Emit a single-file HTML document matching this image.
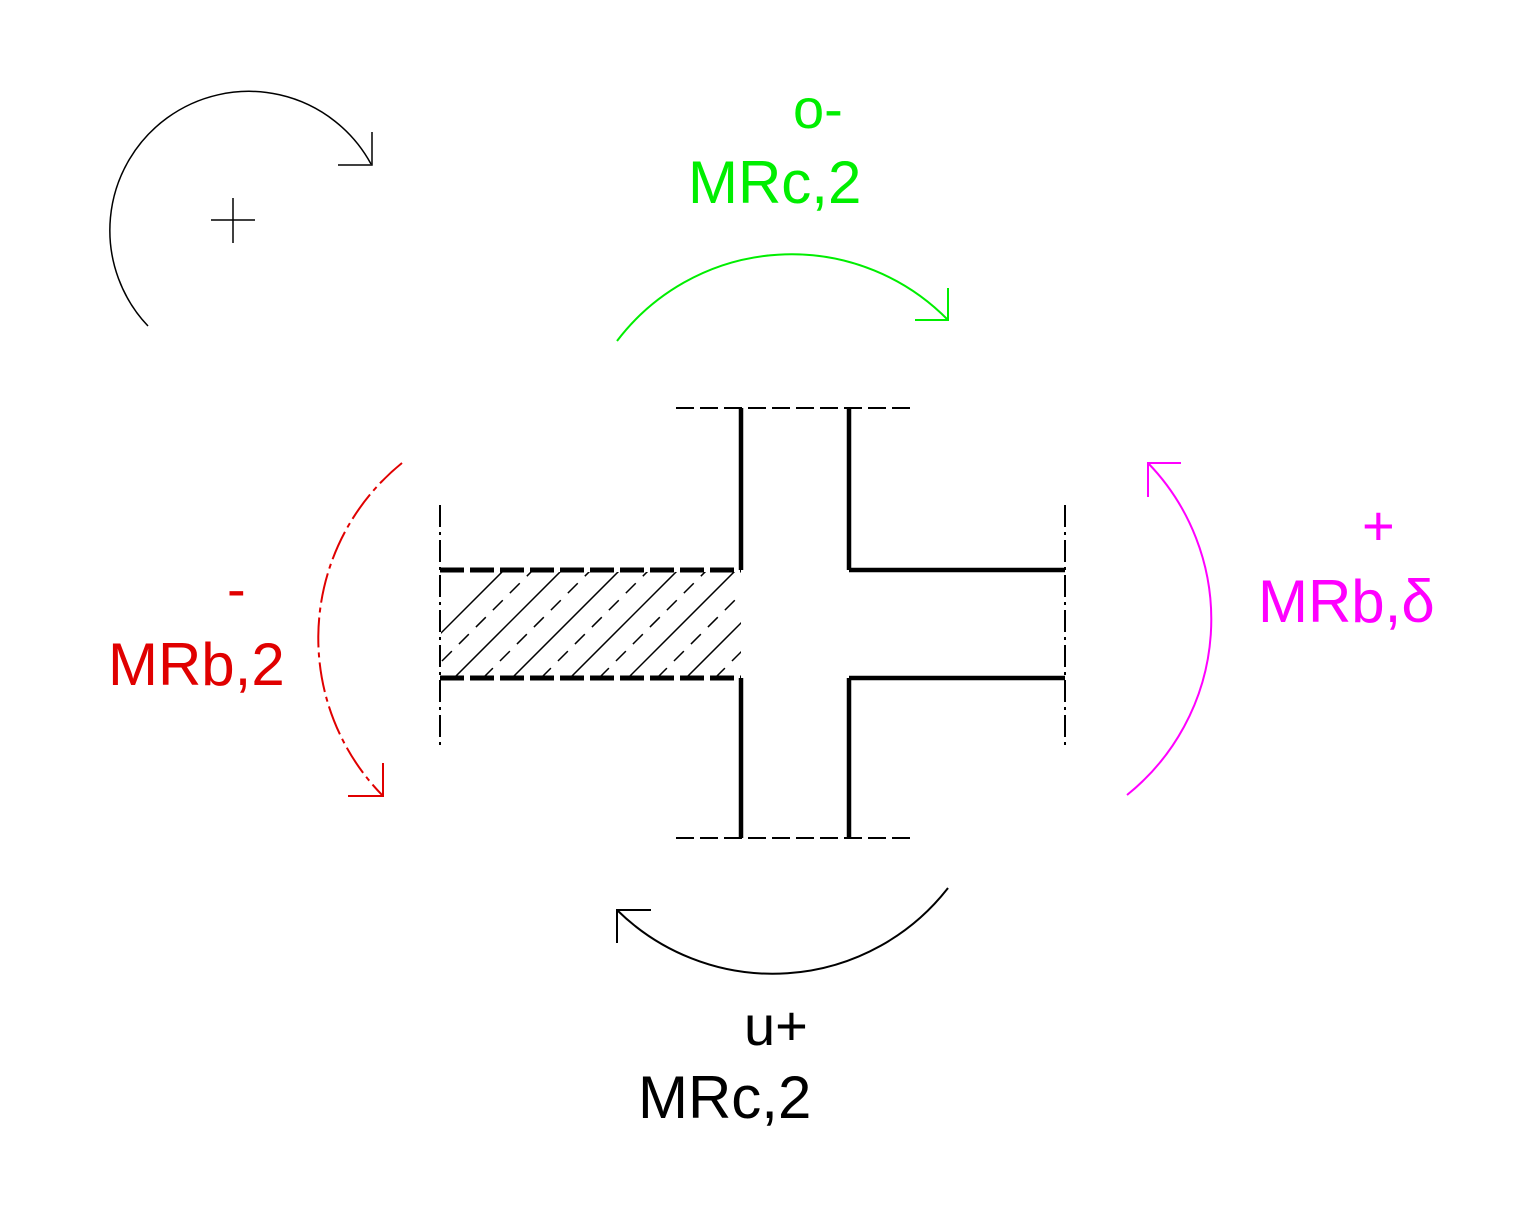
<!DOCTYPE html>
<html><head><meta charset="utf-8"><style>
html,body{margin:0;padding:0;background:#fff}
svg{display:block}
text{font-family:"Liberation Sans",Arial,sans-serif}
</style></head><body>
<svg width="1529" height="1228" viewBox="0 0 1529 1228">
<defs><clipPath id="hc"><rect x="441" y="572" width="300" height="105"/></clipPath></defs>
<g fill="none" stroke="#000" stroke-width="1.5">
<path d="M148,326 A139,139 0 1 1 371,164"/>
<path d="M338,165 L372,165 L372,132"/>
<path d="M211,220 H255 M233,198 V243"/>
</g>
<g fill="none" stroke="#00ee00" stroke-width="2">
<path d="M617,341 A219,219 0 0 1 948,320"/>
<path d="M915,320 L948,320 L948,288"/>
</g>
<text x="793" y="128" font-size="56" fill="#00ee00">o-</text>
<text x="688" y="203" font-size="60" fill="#00ee00">MRc,2</text>
<g fill="none" stroke="#e00000" stroke-width="2">
<path d="M402,463 A225,225 0 0 0 383,796" stroke-dasharray="30,5,5,5"/>
<path d="M348,796 L383,796 L383,763"/>
</g>
<text x="227" y="608" font-size="56" fill="#e00000">-</text>
<text x="108" y="685" font-size="60" fill="#e00000">MRb,2</text>
<g fill="none" stroke="#ff00ff" stroke-width="2">
<path d="M1127,795 A225,225 0 0 0 1148,463"/>
<path d="M1181,463 L1148,463 L1148,497"/>
</g>
<text x="1362" y="545" font-size="56" fill="#ff00ff">+</text>
<text x="1258" y="622" font-size="60" fill="#ff00ff">MRb,δ</text>
<g fill="none" stroke="#000" stroke-width="2">
<path d="M948,888 A222,222 0 0 1 617,910"/>
<path d="M651,910 L617,910 L617,943"/>
</g>
<text x="744" y="1045" font-size="56" fill="#000">u+</text>
<text x="638" y="1118" font-size="60" fill="#000">MRc,2</text>
<g fill="none" stroke="#000">
<g stroke-width="4.5">
<path d="M741,408 V570 M849,408 V570 M849,570 H1065 M849,678 H1065 M741,678 V838 M849,678 V838"/>
</g>
<g stroke-width="5" stroke-dasharray="24,6">
<path d="M440,570 H741 M440,678 H741"/>
</g>
<g stroke-width="2" stroke-dasharray="18,6">
<path d="M676,408 H915 M676,838 H915"/>
</g>
<g stroke-width="2" stroke-dasharray="22,5,3,5">
<path d="M440,505 V745 M1065,505 V745"/>
</g>
<g clip-path="url(#hc)" stroke-width="1.5">
<path d="M396,678 L504,570 M454,678 L562,570 M512,678 L620,570 M570,678 L678,570 M628,678 L736,570 M686,678 L794,570 M744,678 L852,570"/>
<path stroke-dasharray="14,10" d="M425,678 L533,570 M483,678 L591,570 M541,678 L649,570 M599,678 L707,570 M657,678 L765,570 M715,678 L823,570"/>
</g>
</g>
</svg>
</body></html>
